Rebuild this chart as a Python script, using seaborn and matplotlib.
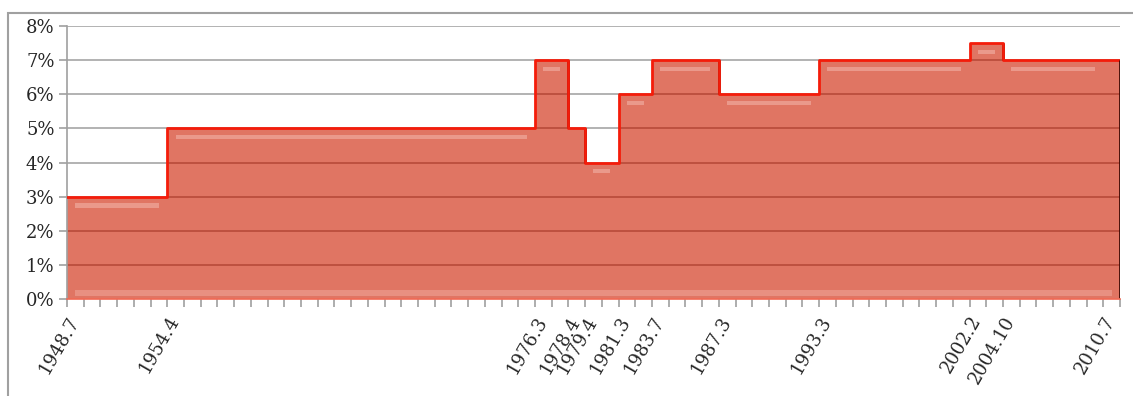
import numpy as np
import pandas as pd
import seaborn as sns
import matplotlib.pyplot as plt
from matplotlib.patches import Rectangle
from matplotlib.ticker import FuncFormatter

# rate changes (label = year.month), value in percent
dates = ["1948.7", "1954.4", "1976.3", "1978.4", "1979.4", "1981.3",
         "1983.7", "1987.3", "1993.3", "2002.2", "2004.10", "2010.7"]
rates = [3, 5, 7, 5, 4, 6, 7, 6, 7, 7.5, 7, 7]
first_year = 1948
last_year = 2011  # axis runs one year past the last label

sns.set_style("white")
plt.rcParams['font.family'] = ['DejaVu Serif']

pos = [int(d.split('.')[0]) - first_year for d in dates]
end = last_year - first_year
df = pd.DataFrame({"pos": pos + [end], "rate": rates + [rates[-1]]})

fig = plt.figure(figsize=(11.33, 3.96), dpi=100)
ax = fig.add_axes([67/1133, 97/396, 1053/1133, 273/396])

# light grey grid behind the area
for y in range(0, 9):
    ax.axhline(y, color="#a6a6a6", lw=1.2, zorder=0)

fill = ax.fill_between(df["pos"], df["rate"], step="post",
                       color="#e07563", lw=0, zorder=1)
# grid shows through the fill as darker lines
clip = fill.get_paths()[0]
for y in range(1, 8):
    ln = ax.axhline(y, color="#b84a3a", lw=1.2, zorder=2)
    ln.set_clip_path(clip, ax.transData)

# soft bevel highlights
for i in range(len(pos)):
    x0 = pos[i]
    x1 = pos[i + 1] if i + 1 < len(pos) else end
    v = rates[i]
    ax.fill_between([x0 + 0.5, x1 - 0.5], v - 0.32, v - 0.2,
                    color="#f4b8ad", alpha=0.55, lw=0, zorder=3)
ax.fill_between([0.5, end - 0.5], 0.1, 0.25, color="#f0aca0",
                alpha=0.5, lw=0, zorder=3)

# outline
sns.lineplot(data=df, x="pos", y="rate", drawstyle="steps-post",
             estimator=None, color="#f41c0a", lw=2, ax=ax, zorder=5)
# dark shadow on drop edges and at the right end
for i in range(len(pos) - 1):
    if rates[i + 1] < rates[i]:
        ax.vlines(pos[i + 1], rates[i + 1], rates[i], color="#5c1208",
                  lw=2, zorder=4)
ax.vlines(end, 0, rates[-1], color="#3c0a04", lw=2, zorder=6)

ax.set_xlim(0, end)
ax.set_ylim(0, 8)
ax.set_xlabel("")
ax.set_ylabel("")
ax.set_yticks(range(0, 9))
ax.yaxis.set_major_formatter(FuncFormatter(lambda v, p: f"{v:.0f}%"))
ax.set_xticks(pos)
ax.set_xticklabels(dates, rotation=60, ha="right", va="top",
                   rotation_mode="anchor")
ax.set_xticks(range(0, end + 1), minor=True)
ax.tick_params(axis="both", which="both", direction="out", length=6,
               width=1.2, color="#a0a0a0", labelsize=13, pad=3,
               bottom=True, left=True)
ax.tick_params(axis="x", which="major", pad=4)

for s in ["top", "right"]:
    ax.spines[s].set_visible(False)
ax.spines["left"].set_color("#a0a0a0")
ax.spines["left"].set_linewidth(1.2)
ax.spines["bottom"].set_color("#f06a55")
ax.spines["bottom"].set_linewidth(1.2)
ax.spines["bottom"].set_zorder(6)

# outer chart frame
fig.patches.append(Rectangle((8/1133, -0.1), 1.2, 1 - 13/396 + 0.1,
                             transform=fig.transFigure, fill=False,
                             edgecolor="#a0a0a0", lw=1.5))

fig.savefig("out.png", dpi=100)
